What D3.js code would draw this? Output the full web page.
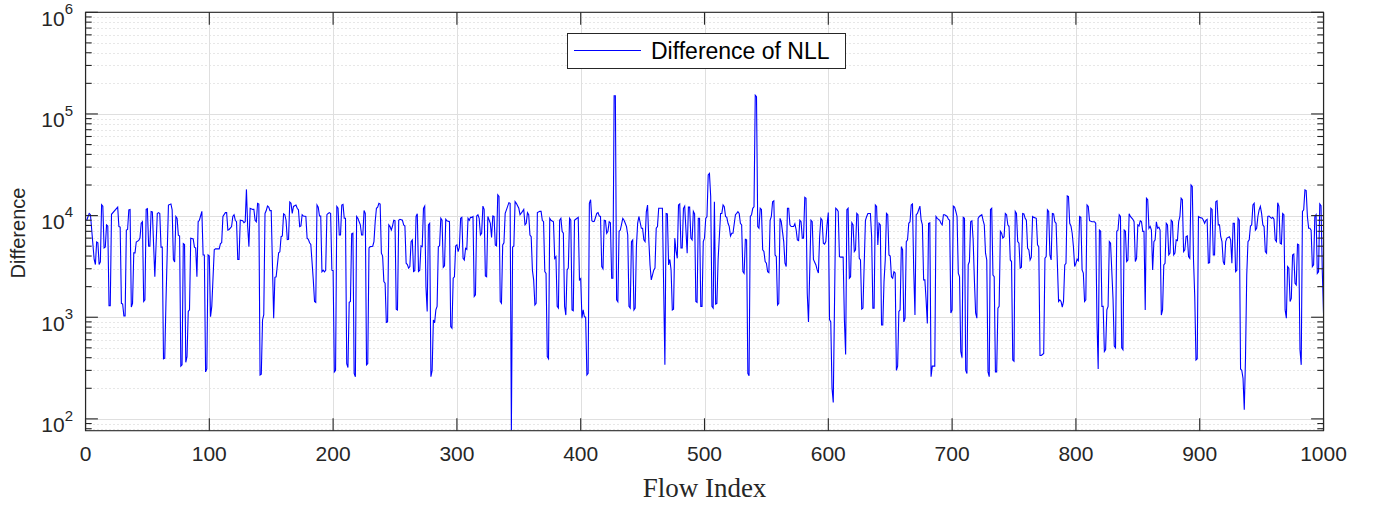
<!DOCTYPE html>
<html><head><meta charset="utf-8">
<script src="https://cdn.jsdelivr.net/npm/d3@7"></script>
<style>body{margin:0;background:#fff}svg{display:block}</style>
</head><body><svg id="c" width="1383" height="507"></svg>
<script>
const flowIndex = [
1,3,4,7,8,9,10,11,12,13,
14,15,16,17,18,19,20,21,26,27,
28,29,30,31,32,33,34,35,36,37,
38,39,40,41,43,44,45,46,47,48,
49,50,51,52,53,54,56,58,59,60,
61,62,63,64,65,67,69,70,71,72,
73,74,75,76,77,78,79,80,81,82,
83,84,85,87,88,89,90,91,92,94,
95,96,97,98,99,100,101,102,104,105,
108,109,110,111,113,114,115,116,118,119,
120,121,122,123,124,125,127,128,129,130,
131,132,133,135,136,137,138,139,140,141,
142,143,144,145,146,147,148,149,150,152,
153,154,156,157,158,159,160,161,162,163,
164,165,166,167,168,170,171,172,173,174,
175,176,178,179,180,181,182,184,185,186,
187,188,189,190,191,192,193,194,195,196,
197,198,199,200,201,202,203,204,205,206,
207,208,209,210,211,212,213,214,215,216,
217,218,219,220,222,223,224,225,226,227,
228,229,230,232,233,234,235,236,237,238,
239,240,241,242,243,244,245,246,247,248,
249,250,251,252,253,254,256,257,258,259,
260,261,262,263,264,265,266,267,268,269,
270,271,272,273,274,275,276,277,278,279,
280,281,282,283,284,285,286,287,288,289,
290,291,292,294,295,296,297,298,299,300,
301,302,303,304,305,306,307,308,309,310,
311,312,313,314,315,316,317,318,319,320,
321,322,323,324,325,327,328,329,330,331,
332,333,334,335,336,337,338,339,340,342,
343,344,345,346,347,348,350,351,353,354,
355,356,357,358,359,360,361,362,363,364,
365,367,368,369,370,371,372,373,374,375,
376,378,379,380,381,382,383,384,385,386,
387,388,389,390,391,392,393,394,395,396,
398,399,400,401,402,403,404,405,406,407,
408,409,410,411,413,414,415,416,417,418,
419,420,421,422,423,424,425,426,427,428,
429,430,431,432,434,435,436,437,438,439,
440,441,442,443,444,445,446,447,449,450,
451,452,453,454,455,456,457,459,460,461,
462,463,466,468,469,470,471,472,473,474,
475,476,477,478,479,480,481,482,483,484,
486,487,488,489,490,491,492,493,494,495,
496,497,498,499,500,501,502,503,504,505,
506,507,508,509,510,511,513,514,515,516,
517,518,519,520,521,522,523,525,526,527,
528,529,530,531,532,533,534,535,536,537,
538,539,540,541,542,543,544,545,546,547,
548,549,550,551,552,553,554,555,556,557,
558,559,560,561,562,564,565,566,567,568,
569,570,572,573,574,575,576,577,578,579,
580,581,582,583,584,586,587,588,590,591,
592,593,594,595,596,597,598,599,600,601,
602,603,604,606,607,608,609,610,612,613,
614,615,616,617,618,619,620,621,622,623,
624,625,626,627,628,630,631,632,634,635,
636,637,638,639,640,641,642,643,644,645,
646,647,648,649,650,651,652,653,654,655,
656,657,658,659,660,661,662,663,664,665,
666,667,668,669,670,671,672,674,675,676,
677,678,679,680,681,682,683,684,685,686,
687,688,690,691,692,693,694,696,697,698,
699,700,701,702,703,704,705,706,707,708,
709,710,711,712,713,714,715,716,717,718,
719,720,721,722,724,725,726,727,728,729,
730,731,732,733,734,735,736,737,738,739,
740,741,742,743,744,745,746,747,748,749,
750,751,752,753,754,755,756,757,758,759,
760,761,762,763,764,765,766,768,769,770,
771,772,773,774,775,776,777,778,779,780,
781,782,783,784,786,787,788,789,790,791,
792,793,794,795,796,797,798,799,800,801,
802,803,804,805,806,807,808,809,810,811,
813,815,816,817,818,819,820,821,822,823,
824,825,826,827,828,830,831,832,833,834,
835,836,837,838,839,840,841,842,843,844,
846,847,848,849,850,851,852,853,854,855,
856,857,858,859,860,861,862,863,864,865,
866,867,868,869,870,871,872,873,874,875,
876,877,878,879,880,881,882,883,884,885,
886,887,888,889,890,891,892,893,894,895,
896,897,898,899,900,902,903,904,905,906,
907,908,909,910,911,912,913,914,915,916,
917,918,919,920,921,922,924,925,926,927,
928,929,930,931,932,933,934,935,936,937,
938,939,940,941,942,943,944,945,946,947,
948,949,950,951,952,953,954,955,956,958,
959,960,961,962,963,964,965,966,967,968,
969,970,971,972,973,974,975,976,977,978,
979,980,981,982,983,984,985,986,987,988,
989,990,991,992,993,994,995,996,997,998,
999,1000];
const difference = [
9000,10500,10200,3700,3300,5500,5400,3300,3500,12800,
12400,4800,4900,8100,7900,1300,1300,10300,12100,7800,
7700,1370,1350,1030,1030,7200,7300,11400,11500,1260,
1370,4300,4300,5500,5700,6000,8400,8700,1430,1480,
11500,11700,5000,5000,11000,10900,2500,10500,10700,10500,
4900,4900,390,395,1430,12700,13000,11400,3700,3500,
9800,9400,6400,6300,330,340,5300,5200,360,410,
1140,1180,6000,5900,4900,4800,2500,8700,9000,11000,
4100,4100,290,310,4100,4000,1010,1280,4600,4700,
4700,5300,5400,9800,10700,10700,7200,7300,7800,9800,
10200,9000,8700,3700,3700,9000,8900,8500,8700,18100,
7800,4950,11800,11500,11500,9000,8700,13200,13000,270,
275,940,1060,10500,11200,12400,12100,11200,11200,980,
2470,2500,4300,4400,6200,6300,10400,10200,9000,5800,
5850,13600,13200,10500,12300,12700,11800,11400,7800,7900,
10200,9900,9800,6000,5850,5400,5200,2330,1430,1400,
12700,12100,9900,9900,2800,2900,2800,2900,10200,10500,
10700,10500,2900,2870,290,300,12300,11800,6450,6450,
12700,12900,9400,9400,350,320,1400,1430,6600,6700,
280,260,9800,9400,8100,6450,6450,11200,10500,340,
350,4800,4950,5000,5550,8700,11800,12100,13200,13000,
4270,4000,2240,2160,890,900,8100,7800,7200,7900,
9000,8900,1200,1180,9000,9200,9000,8100,7900,3400,
3300,3040,3150,5550,5770,2820,2870,9800,10400,2820,
2900,5030,4950,11800,12400,2000,1140,8100,8400,260,
300,940,880,1180,1280,4950,5030,9400,9000,3100,
3200,9200,8900,8700,810,780,2420,2500,5030,5150,
4420,4880,9400,9600,3800,3660,4770,4660,9400,9000,
9600,9600,9800,1600,1660,9900,10200,9400,6450,6700,
12400,11500,2550,2500,9800,8400,6100,9900,9800,5150,
5030,16000,15400,1430,1370,5150,5400,10500,11400,13400,
13200,77,4900,5030,13700,13200,11800,10200,11000,11500,
8100,8400,10700,10200,6450,6200,2900,2330,1320,1370,
10700,11000,11000,9000,8700,2810,2700,410,390,9400,
9000,8700,3800,3950,1280,1230,9000,9400,7000,6700,
1280,1050,2920,3040,9400,9000,1180,1160,9000,9200,
9600,2330,2400,980,1180,1010,1000,270,280,13200,
14300,8900,8700,8800,10500,10700,9900,9800,3150,3000,
9000,8900,6700,7000,8700,8500,2420,2420,151000,151000,
1480,1420,7000,7200,9400,9000,8400,7800,6450,1280,
1230,5550,5770,1180,1230,4950,8400,9800,7500,7500,
5770,5550,10900,12700,5770,3270,2330,2900,3040,7500,
7800,11800,11800,340,10500,10400,3270,3700,2920,1180,
1200,6000,4500,3800,12700,13000,4800,4800,11800,12400,
4260,12100,12100,6000,5770,11000,10400,1430,1400,9400,
9400,1280,1280,5550,6000,9400,9800,25100,26000,15400,
1280,1230,13700,1350,1370,3700,10500,10500,12700,12200,
9800,9600,8400,7800,6300,6700,6700,10200,10500,10900,
10500,8400,8100,2810,2700,5850,5770,280,265,9800,
10200,11800,12200,153000,148000,7800,7500,11800,11500,4600,
4430,3530,3400,2810,2750,9000,9800,13700,14000,4100,
3950,1320,1370,9400,8700,5550,3400,3150,11800,11800,
8100,7800,7800,8300,7300,5770,5680,9000,8700,6000,
6000,15100,14800,1720,900,9000,8700,3700,3270,2920,
2720,6200,9400,9000,5340,5240,5550,8100,10700,950,
900,200,145,11800,11500,11000,3950,3900,3900,940,
430,11400,11800,2420,2500,8500,8100,4420,4600,10500,
10200,3800,3660,1200,1230,9000,9800,10500,10500,6200,
1230,1230,12700,12300,5150,8400,8100,840,840,2240,
3660,10500,10200,4100,4000,2500,2420,2810,2720,300,
330,1140,1180,4950,4600,900,980,5550,5770,8400,
8700,12700,13000,2900,1050,10200,10500,12400,9000,8100,
2330,2330,1480,870,8400,8500,260,330,330,330,
9800,9400,9000,8400,8100,10200,10200,9800,9200,9000,
1100,1180,12400,12100,11000,9800,2720,2500,460,400,
9600,9400,300,280,3270,3530,8700,8900,5770,2330,
1100,980,9400,9800,10200,9000,8100,4270,3660,290,
260,11500,11800,2600,2500,290,290,1230,1280,7000,
6700,6000,6200,10500,10200,8100,7800,3660,3530,380,
370,11000,10500,5550,5340,3040,3100,10500,10400,9400,
9000,4770,4600,3660,3900,9800,9600,9400,5150,4950,
420,420,430,440,3800,3950,11400,11000,4100,3660,
10500,10400,8700,8400,1430,1480,1430,1260,1430,3270,
3400,15600,15400,8400,7900,6700,4950,3150,3400,3730,
3600,9800,9600,2920,2720,1430,1480,12700,12300,8900,
8700,8700,8400,940,310,7200,7000,1280,1280,460,
480,1180,1280,5550,5340,1500,520,500,7000,7200,
10200,9800,500,480,7200,7000,3530,3660,10400,9800,
9200,8700,3530,3800,8100,7900,8900,8700,7000,7000,
1180,14800,14300,7500,7800,7200,2920,5550,5770,8700,
7500,7700,7200,1050,1180,3270,3400,8400,8100,4100,
4270,9000,8700,4100,4270,5770,5680,8700,9800,14800,
14300,4420,4600,6200,6300,3950,3800,20000,19300,3660,
1600,380,390,9800,9600,9400,9000,8400,9000,9200,
3400,3450,11800,11500,4100,4100,13700,14000,8100,8100,
6200,5550,3530,3270,5550,6000,6200,5770,3400,8400,
8400,2810,2900,9400,9000,310,300,250,123,400,
2600,5550,5770,7900,8100,12700,13200,7200,7500,9800,
11400,12300,10500,8100,7800,4420,4270,9800,9900,9400,
9600,9200,5770,5550,13400,12300,5340,5240,10500,10200,
1180,980,3150,3040,1430,1530,4100,4180,2160,2080,
5240,5150,480,340,11000,11400,17900,17600,9800,7500,
7500,7200,3150,3270,9800,10200,2700,2800,13000,12500,
2900,1100];
const xTicks = [0,100,200,300,400,500,600,700,800,900,1000];
const yDecades = [1e2,1e3,1e4,1e5,1e6];
const yExponents = ["2","3","4","5","6"];
const seriesName = "Difference of NLL";
const xLabelText = "Flow Index";
const yLabelText = "Difference";

const L = 85.5, R = 1323.5, T = 12.3, B = 430.7;
const axisColor = "#262626";
const svg = d3.select("#c");
const x = d3.scaleLinear().domain([0, 1000]).range([L, R]);
const y = d3.scaleLog().domain([76.5, 1e6]).range([B, T]);

const minorVals = [];
[10,100,1000,10000,100000].forEach(d => { for (let m = 2; m <= 9; m++) { const v = d*m; if (v >= 76.5 && v <= 1e6) minorVals.push(v); } });

const g = svg.append("g");
g.selectAll(".mg").data(minorVals).join("line")
  .attr("x1", L).attr("x2", R).attr("y1", d => Math.round(y(d))+0.5).attr("y2", d => Math.round(y(d))+0.5)
  .attr("stroke", "#cfcfcf").attr("stroke-width", 1).attr("stroke-dasharray", "1,3");
g.selectAll(".yg").data(yDecades).join("line")
  .attr("x1", L).attr("x2", R).attr("y1", d => Math.round(y(d))+0.5).attr("y2", d => Math.round(y(d))+0.5)
  .attr("stroke", "#dfdfdf").attr("stroke-width", 1);
g.selectAll(".xg").data(xTicks).join("line")
  .attr("x1", d => Math.round(x(d))+0.5).attr("x2", d => Math.round(x(d))+0.5).attr("y1", T).attr("y2", B)
  .attr("stroke", "#dfdfdf").attr("stroke-width", 1);

svg.append("clipPath").attr("id", "clip").append("rect").attr("x", L).attr("y", T).attr("width", R-L).attr("height", B-T);
const pts = flowIndex.map((f, i) => [f, difference[i]]);
svg.append("path").datum(pts).attr("clip-path", "url(#clip)")
  .attr("fill", "none").attr("stroke", "#0000ff").attr("stroke-width", 1.1)
  .attr("d", d3.line().x(d => x(d[0])).y(d => y(d[1])));

svg.append("rect").attr("x", L).attr("y", T).attr("width", R-L).attr("height", B-T)
  .attr("fill", "none").attr("stroke", axisColor).attr("stroke-width", 1.1);

const tk = svg.append("g").attr("stroke", axisColor).attr("stroke-width", 1.1);
xTicks.forEach(v => {
  tk.append("line").attr("x1", x(v)).attr("x2", x(v)).attr("y1", B).attr("y2", B-12.4);
  tk.append("line").attr("x1", x(v)).attr("x2", x(v)).attr("y1", T).attr("y2", T+12.4);
});
yDecades.forEach(v => {
  tk.append("line").attr("x1", L).attr("x2", L+12.4).attr("y1", y(v)).attr("y2", y(v));
  tk.append("line").attr("x1", R).attr("x2", R-12.4).attr("y1", y(v)).attr("y2", y(v));
});
minorVals.forEach(v => {
  tk.append("line").attr("x1", L).attr("x2", L+6.2).attr("y1", y(v)).attr("y2", y(v));
  tk.append("line").attr("x1", R).attr("x2", R-6.2).attr("y1", y(v)).attr("y2", y(v));
});

const font = "'Liberation Sans', Arial, Helvetica, sans-serif";
svg.append("g").selectAll("text").data(xTicks).join("text")
  .attr("x", d => x(d)).attr("y", 461).attr("text-anchor", "middle")
  .attr("font-family", font).attr("font-size", 21).attr("fill", axisColor).text(d => d);
const yl = svg.append("g");
yDecades.forEach((v, i) => {
  const t = yl.append("text").attr("x", 73).attr("y", y(v) + 13.4).attr("text-anchor", "end")
    .attr("font-family", font).attr("fill", axisColor);
  t.append("tspan").attr("font-size", 21).text("10");
  t.append("tspan").attr("font-size", 15).attr("dy", -11.7).text(yExponents[i]);
});

svg.append("text").attr("x", (L+R)/2).attr("y", 497).attr("text-anchor", "middle")
  .attr("font-family", "'Liberation Serif', 'Times New Roman', serif").attr("font-size", 27)
  .attr("fill", axisColor).text(xLabelText);
svg.append("text").attr("transform", `translate(25,233) rotate(-90)`).attr("text-anchor", "middle")
  .attr("font-family", font).attr("font-size", 20).attr("fill", axisColor).text(yLabelText);

const lg = svg.append("g");
lg.append("rect").attr("x", 567.5).attr("y", 33.5).attr("width", 278).attr("height", 35)
  .attr("fill", "#fff").attr("stroke", axisColor).attr("stroke-width", 1);
lg.append("line").attr("x1", 574).attr("x2", 641).attr("y1", 50.5).attr("y2", 50.5)
  .attr("stroke", "#0000ff").attr("stroke-width", 1.1);
lg.append("text").attr("x", 651).attr("y", 59).attr("font-family", font).attr("font-size", 23)
  .attr("fill", "#000").text(seriesName);
</script></body></html>
